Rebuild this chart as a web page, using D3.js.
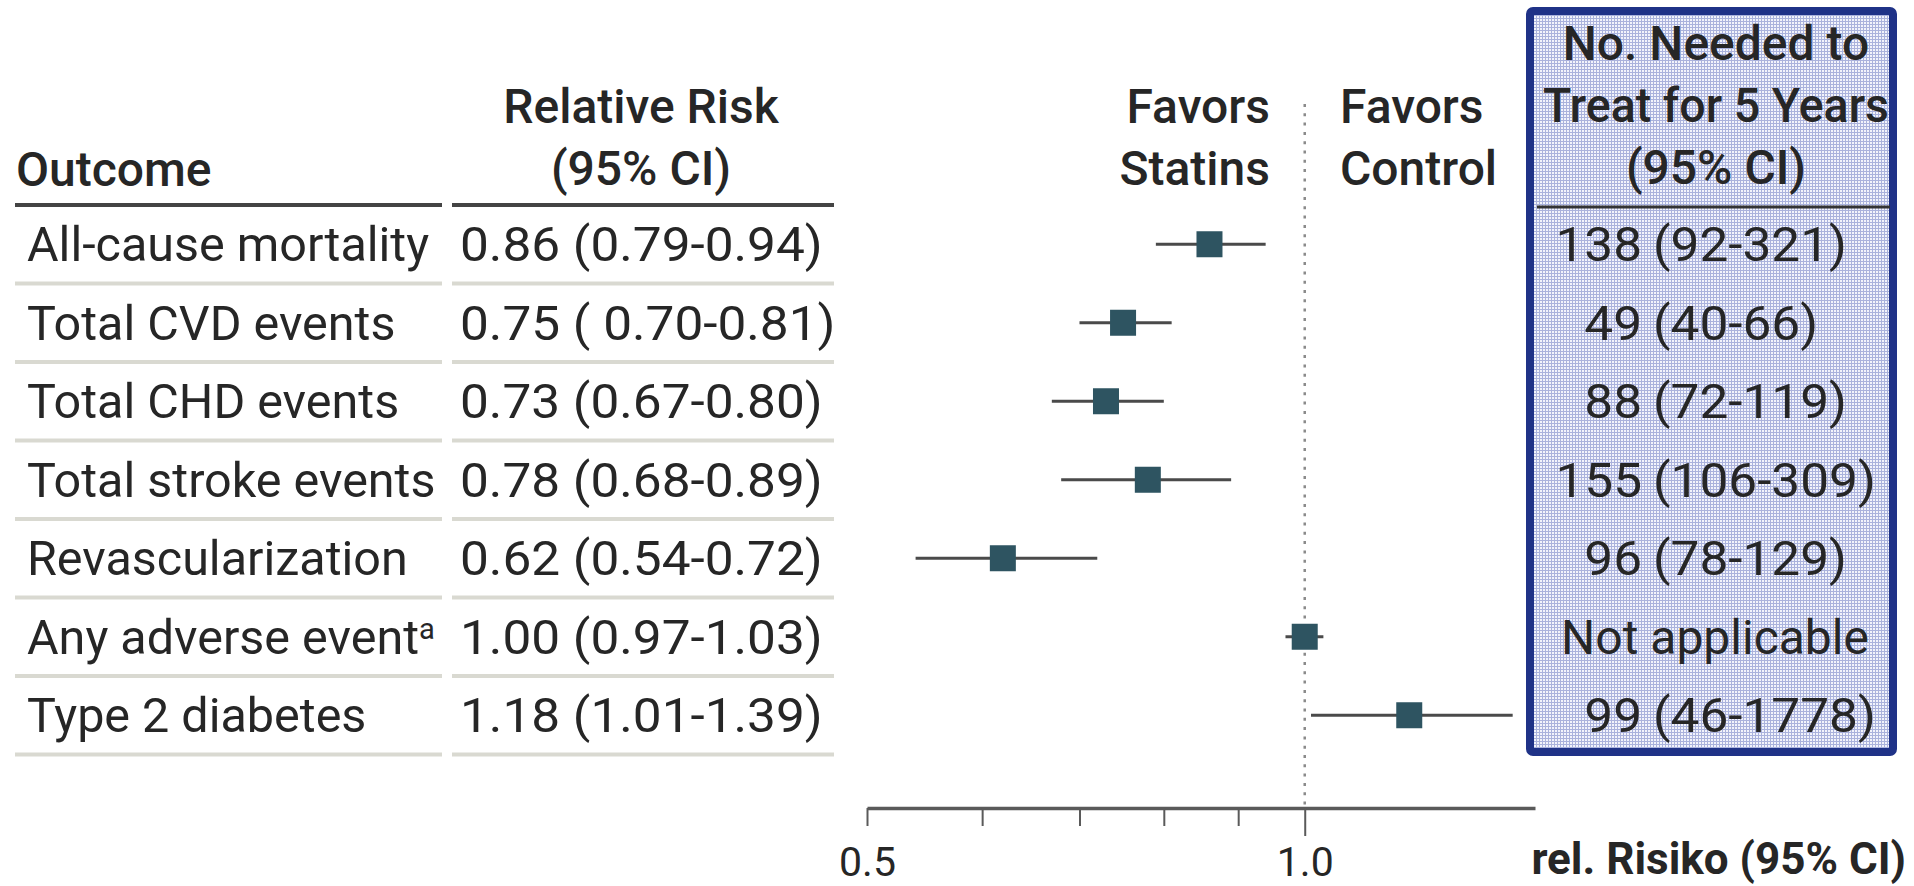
<!DOCTYPE html>
<html>
<head>
<meta charset="utf-8">
<script src="https://cdn.jsdelivr.net/npm/d3@7"></script>
<style>
  html, body { margin: 0; padding: 0; background: #ffffff; }
  svg { display: block; }
  text { font-family: Roboto, "Noto Sans", sans-serif; fill: #262626; }
</style>
</head>
<body>
<svg id="chart" width="1914" height="886"></svg>
<script>
// Statin trials: pooled relative risks with 95% confidence intervals
const outcomes = [
  "All-cause mortality", "Total CVD events", "Total CHD events",
  "Total stroke events", "Revascularization", "Any adverse event", "Type 2 diabetes"
];
const outcomeSup = ["", "", "", "", "", "a", ""];
const rr   = [0.86, 0.75, 0.73, 0.78, 0.62, 1.00, 1.18];
const ciLo = [0.79, 0.70, 0.67, 0.68, 0.54, 0.97, 1.01];
const ciHi = [0.94, 0.81, 0.80, 0.89, 0.72, 1.03, 1.39];
const rrLabels = [
  "0.86 (0.79-0.94)", "0.75 ( 0.70-0.81)", "0.73 (0.67-0.80)", "0.78 (0.68-0.89)",
  "0.62 (0.54-0.72)", "1.00 (0.97-1.03)", "1.18 (1.01-1.39)"
];
// number needed to treat for 5 years (null = not applicable)
const nntValue = ["138", "49", "88", "155", "96", null, "99"];
const nntCI    = ["(92-321)", "(40-66)", "(72-119)", "(106-309)", "(78-129)", null, "(46-1778)"];
const tickValues = [0.5, 0.6, 0.7, 0.8, 0.9, 1.0];
const tickLabels = ["0.5", "", "", "", "", "1.0"];

const svg = d3.select("#chart");
const FS = 48;
const NUM_SX = 1.07;   // widen figures a little

// pattern fill for the highlighted NNT column
const defs = svg.append("defs");
const pat = defs.append("pattern").attr("id", "grid")
  .attr("width", 3).attr("height", 3).attr("patternUnits", "userSpaceOnUse");
pat.append("rect").attr("width", 3).attr("height", 3).attr("fill", "#f2f3fb");
pat.append("rect").attr("width", 3).attr("height", 1).attr("fill", "#aab2dc");
pat.append("rect").attr("width", 1).attr("height", 3).attr("fill", "#aab2dc");

// layout
const headerLineY = 205;
const rowH = 78.5;
const y = d3.scaleBand().domain(d3.range(outcomes.length))
  .range([headerLineY, headerLineY + rowH * outcomes.length]).padding(0);
const yc = i => y(i) + y.bandwidth() / 2;
const baseY = i => yc(i) + 0.35 * FS;

const x = d3.scaleLog().domain([0.5, 1.44]).range([867, 1535]);

const colOutcome = [15, 442];
const colRR = [452, 834];

// text helper with optional horizontal stretch
function sText(parent, txt, tx, ty, anchor, sx, fs, weight) {
  const g = parent.append("g").attr("transform", `translate(${tx},${ty}) scale(${sx},1)`);
  return g.append("text").attr("x", 0).attr("y", 0)
    .attr("text-anchor", anchor).attr("font-size", fs || FS)
    .attr("font-weight", weight || 400).text(txt);
}

// highlighted NNT box
svg.append("rect")
  .attr("x", 1530).attr("y", 11).attr("width", 363).attr("height", 741)
  .attr("rx", 3).attr("fill", "url(#grid)")
  .attr("stroke", "#1f3287").attr("stroke-width", 8);

// header text
const head = svg.append("g");
sText(head, "Outcome", 16, 186, "start", 1, FS, 500);
sText(head, "Relative Risk", 641, 123, "middle", 1, FS, 500);
sText(head, "(95% CI)", 641, 185, "middle", 1, FS, 500);
sText(head, "Favors", 1270, 123, "end", 1, FS, 500);
sText(head, "Statins", 1270, 185, "end", 1, FS, 500);
sText(head, "Favors", 1340, 123, "start", 1, FS, 500);
sText(head, "Control", 1340, 185, "start", 1, FS, 500);
sText(head, "No. Needed to", 1716, 60, "middle", 1, FS, 500);
sText(head, "Treat for 5 Years", 1716, 122, "middle", 0.97, FS, 500);
sText(head, "(95% CI)", 1716, 184, "middle", 1, FS, 500);

// header rules
[colOutcome, colRR].forEach(c => {
  svg.append("line").attr("x1", c[0]).attr("x2", c[1])
    .attr("y1", headerLineY).attr("y2", headerLineY)
    .attr("stroke", "#444").attr("stroke-width", 4);
});
svg.append("line").attr("x1", 1537).attr("x2", 1890)
  .attr("y1", 207).attr("y2", 207).attr("stroke", "#333").attr("stroke-width", 3);

// row separators
const rows = svg.append("g");
d3.range(outcomes.length).forEach(i => {
  [colOutcome, colRR].forEach(c => {
    rows.append("line").attr("x1", c[0]).attr("x2", c[1])
      .attr("y1", y(i) + rowH).attr("y2", y(i) + rowH)
      .attr("stroke", "#d9d9d1").attr("stroke-width", 4);
  });
});

// outcome names
const names = svg.append("g");
outcomes.forEach((d, i) => {
  const t = sText(names, null, 27, baseY(i), "start", 1.01, FS);
  t.append("tspan").text(d);
  if (outcomeSup[i]) {
    t.append("tspan").text(outcomeSup[i])
      .attr("font-size", FS * 0.6).attr("dy", -FS * 0.3);
  }
});

// relative risk labels
const rrG = svg.append("g");
rrLabels.forEach((d, i) => sText(rrG, d, 460, baseY(i), "start", NUM_SX, FS));

// NNT values aligned on the parenthesis
const nnt = svg.append("g");
d3.range(outcomes.length).forEach(i => {
  if (nntValue[i] === null) {
    sText(nnt, "Not applicable", 1715, baseY(i), "middle", 1.0, FS);
  } else {
    sText(nnt, nntValue[i], 1642, baseY(i), "end", NUM_SX, FS);
    sText(nnt, nntCI[i], 1653, baseY(i), "start", NUM_SX, FS);
  }
});

// reference line at RR = 1
svg.append("line").attr("x1", x(1)).attr("x2", x(1))
  .attr("y1", 104).attr("y2", 808)
  .attr("stroke", "#8a8a8a").attr("stroke-width", 2.5)
  .attr("stroke-dasharray", "3,6.3");

// axis
const axis = svg.append("g").attr("transform", "translate(0,808)")
  .call(d3.axisBottom(x).tickValues(tickValues)
    .tickFormat((d, i) => tickLabels[i]).tickSize(18).tickSizeOuter(0));
axis.select(".domain").attr("stroke", "#5a5a5a").attr("stroke-width", 3.5);
axis.selectAll(".tick line").attr("stroke", "#5a5a5a").attr("stroke-width", 2)
  .attr("y2", d => d === 1 ? 28 : 18);
axis.selectAll(".tick text")
  .attr("y", 68).attr("dy", 0)
  .attr("font-size", 41).attr("font-family", "Roboto, sans-serif").attr("fill", "#333");

// confidence intervals and point estimates
const marks = svg.append("g");
marks.selectAll("line.ci").data(rr).join("line").attr("class", "ci")
  .attr("x1", (d, i) => x(ciLo[i])).attr("x2", (d, i) => x(ciHi[i]))
  .attr("y1", (d, i) => yc(i)).attr("y2", (d, i) => yc(i))
  .attr("stroke", "#4a4a4a").attr("stroke-width", 3);
const SQ = 26;
marks.selectAll("rect.pt").data(rr).join("rect").attr("class", "pt")
  .attr("x", d => x(d) - SQ / 2).attr("y", (d, i) => yc(i) - SQ / 2)
  .attr("width", SQ).attr("height", SQ)
  .attr("fill", "#2e5461");

// axis title
svg.append("text").attr("x", 1906).attr("y", 874).attr("text-anchor", "end")
  .attr("font-family", "Lato, sans-serif").attr("font-weight", 700)
  .attr("font-size", 44).attr("fill", "#111").text("rel. Risiko (95% CI)");
</script>
</body>
</html>
